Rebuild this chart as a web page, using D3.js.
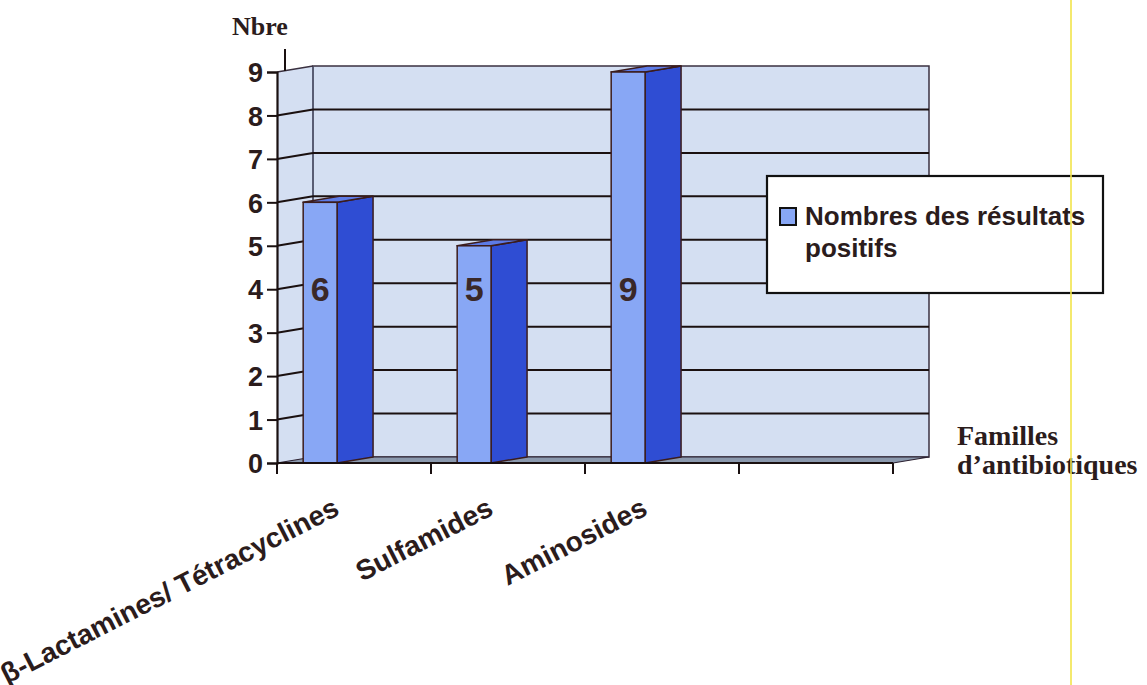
<!DOCTYPE html>
<html>
<head>
<meta charset="utf-8">
<script src="https://cdn.jsdelivr.net/npm/d3@7/dist/d3.min.js"></script>
<style>
  html, body { margin: 0; padding: 0; background: #ffffff; }
  svg { display: block; }
</style>
</head>
<body>
<svg id="chart" width="1147" height="685"></svg>
<script>
// Positive results per antibiotic family
const categories = ["β-Lactamines/ Tétracyclines", "Sulfamides", "Aminosides", ""];
const values = [6, 5, 9, null];
const yTicks = [0, 1, 2, 3, 4, 5, 6, 7, 8, 9];
const seriesName = "Nombres des résultats positifs";
const yTitle = "Nbre";
const xTitle = ["Familles", "d’antibiotiques"];

const svg = d3.select("#chart");

const sansBold = "'Liberation Sans', Arial, Helvetica, sans-serif";
const serif = "'Liberation Serif', 'Times New Roman', Times, serif";
const ink = "#2b1c1c";

// Front plane of the plot and the 3D depth offset
const x = d3.scaleBand().domain(categories).range([277, 893]).paddingInner(0).paddingOuter(0);
const y = d3.scaleLinear().domain([0, 9]).range([463, 72]);
const dx = 36, dy = -6;
const bw = x.bandwidth();
const x0 = x.range()[0], x1 = x.range()[1];
const yTop = y(9), yBot = y(0);

const g = svg.append("g");

// Walls
const wallFill = "#d4dff2";
g.append("path") // side wall
  .attr("d", `M${x0},${yTop} L${x0 + dx},${yTop + dy} L${x0 + dx},${yBot + dy} L${x0},${yBot} Z`)
  .attr("fill", wallFill);
g.append("rect") // back wall
  .attr("x", x0 + dx).attr("y", yTop + dy)
  .attr("width", x1 - x0).attr("height", yBot - yTop)
  .attr("fill", wallFill)
  .attr("stroke", "#3a3040").attr("stroke-width", 1.5);
g.append("line")
  .attr("x1", x0 + dx).attr("x2", x0 + dx)
  .attr("y1", yTop + dy).attr("y2", yBot + dy)
  .attr("stroke", "#55607a").attr("stroke-width", 1.2);
g.append("line")
  .attr("x1", x0).attr("y1", yTop).attr("x2", x0 + dx).attr("y2", yTop + dy)
  .attr("stroke", "#3a3040").attr("stroke-width", 1.5);

// Gridlines: side-wall slant + back-wall horizontal
const grid = yTicks.filter(v => v > 0 && v < 9);
g.selectAll(".gside").data(grid).enter().append("line")
  .attr("x1", x0).attr("y1", d => y(d))
  .attr("x2", x0 + dx).attr("y2", d => y(d) + dy)
  .attr("stroke", "#1a1010").attr("stroke-width", 2);
g.selectAll(".gback").data(grid).enter().append("line")
  .attr("x1", x0 + dx).attr("y1", d => y(d) + dy)
  .attr("x2", x1 + dx).attr("y2", d => y(d) + dy)
  .attr("stroke", "#1a1010").attr("stroke-width", 2);

// Floor
g.append("path")
  .attr("d", `M${x0},${yBot} L${x0 + dx},${yBot + dy} L${x1 + dx},${yBot + dy} L${x1},${yBot} Z`)
  .attr("fill", "#8b99ae").attr("stroke", "#2a2030").attr("stroke-width", 1.2);

// Bars
const front = "#88a7f5", side = "#2f4dd3", topC = "#5d7be6", edge = "#3b1c1c";
const barData = categories.map((c, i) => ({ c, v: values[i] })).filter(d => d.v != null);
const bars = g.selectAll(".bar").data(barData).enter().append("g");
const fx0 = d => x(d.c) + bw * 0.17;
const fx1 = d => x(d.c) + bw * 0.39;
bars.append("path") // right face
  .attr("d", d => `M${fx1(d)},${y(d.v)} L${fx1(d) + dx},${y(d.v) + dy} L${fx1(d) + dx},${yBot + dy} L${fx1(d)},${yBot} Z`)
  .attr("fill", side).attr("stroke", edge).attr("stroke-width", 1.5).attr("stroke-linejoin", "round");
bars.append("path") // top face
  .attr("d", d => `M${fx0(d)},${y(d.v)} L${fx1(d)},${y(d.v)} L${fx1(d) + dx},${y(d.v) + dy} L${fx0(d) + dx},${y(d.v) + dy} Z`)
  .attr("fill", topC).attr("stroke", edge).attr("stroke-width", 1.5).attr("stroke-linejoin", "round");
bars.append("rect") // front face
  .attr("x", fx0).attr("y", d => y(d.v))
  .attr("width", d => fx1(d) - fx0(d)).attr("height", d => yBot - y(d.v))
  .attr("fill", front).attr("stroke", edge).attr("stroke-width", 1.5);
bars.append("text")
  .attr("x", d => (fx0(d) + fx1(d)) / 2)
  .attr("y", y(4) + 12)
  .attr("text-anchor", "middle")
  .attr("font-family", sansBold).attr("font-weight", "bold").attr("font-size", 34)
  .attr("fill", "#3a2828")
  .text(d => d.v);

// Y axis
const yAxis = d3.axisLeft(y).tickValues(yTicks).tickSize(10).tickPadding(4).tickFormat(d3.format("d"));
const ya = svg.append("g").attr("transform", `translate(${x0},0)`).call(yAxis);
ya.select(".domain").attr("stroke", "#1a1010").attr("stroke-width", 2.2);
ya.selectAll(".tick line").attr("stroke", "#1a1010").attr("stroke-width", 2);
ya.selectAll(".tick text")
  .attr("font-family", sansBold).attr("font-weight", "bold").attr("font-size", 27)
  .attr("fill", ink).attr("dy", "0.36em");

// Small stub above the value axis
svg.append("line")
  .attr("x1", x0 + 8).attr("x2", x0 + 8)
  .attr("y1", yTop - 23).attr("y2", yTop - 1)
  .attr("stroke", "#1a1010").attr("stroke-width", 2);

// Category axis: line, boundary ticks, rotated labels
svg.append("line")
  .attr("x1", x0).attr("x2", x1).attr("y1", yBot).attr("y2", yBot)
  .attr("stroke", "#1a1010").attr("stroke-width", 2.2);
const bounds = categories.map(c => x(c)).concat([x1]);
svg.selectAll(".xtick").data(bounds).enter().append("line")
  .attr("x1", d => d).attr("x2", d => d)
  .attr("y1", yBot).attr("y2", yBot + 11)
  .attr("stroke", "#1a1010").attr("stroke-width", 2);
svg.selectAll(".xlab").data(categories.filter(c => c !== "")).enter().append("text")
  .attr("transform", c => `translate(${x(c) + bw / 2 - 13},${yBot + 51}) rotate(-27)`)
  .attr("text-anchor", "end")
  .attr("font-family", sansBold).attr("font-weight", "bold").attr("font-size", 28)
  .attr("fill", ink)
  .text(c => c);

// Axis titles
svg.append("text")
  .attr("x", 232).attr("y", 35)
  .attr("font-family", serif).attr("font-weight", "bold").attr("font-size", 26)
  .attr("fill", ink).text(yTitle);
svg.selectAll(".xtitle").data(xTitle).enter().append("text")
  .attr("x", 957).attr("y", (d, i) => 445 + i * 29)
  .attr("font-family", serif).attr("font-weight", "bold").attr("font-size", 28)
  .attr("fill", ink).text(d => d);

// Legend
const lg = svg.append("g");
lg.append("rect")
  .attr("x", 767).attr("y", 176).attr("width", 336).attr("height", 117)
  .attr("fill", "#ffffff").attr("stroke", "#111111").attr("stroke-width", 2.2);
lg.append("rect")
  .attr("x", 780).attr("y", 208).attr("width", 16).attr("height", 17)
  .attr("fill", front).attr("stroke", "#111111").attr("stroke-width", 2);
const words = seriesName.split(" ");
const legendLines = [words.slice(0, 3).join(" "), words.slice(3).join(" ")];
lg.selectAll(".ltxt").data(legendLines).enter().append("text")
  .attr("x", 805).attr("y", (d, i) => 225 + i * 32)
  .attr("font-family", sansBold).attr("font-weight", "bold").attr("font-size", 26)
  .attr("fill", ink).text(d => d);

// Yellow page rule on the right
svg.append("line")
  .attr("x1", 1071).attr("x2", 1071).attr("y1", 0).attr("y2", 685)
  .attr("stroke", "#f2e44a").attr("stroke-width", 1.6);
</script>
</body>
</html>
